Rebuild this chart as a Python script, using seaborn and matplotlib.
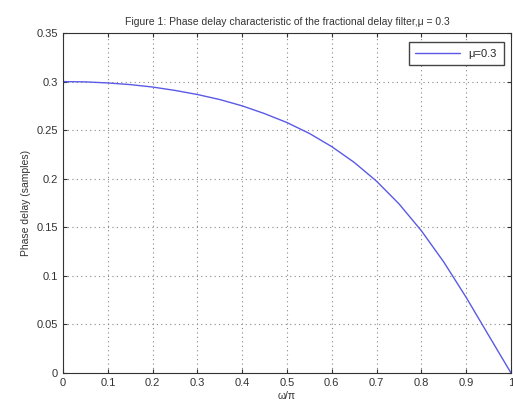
import numpy as np
import pandas as pd
import seaborn as sns
import matplotlib.pyplot as plt

# normalized frequency (w/pi) and phase delay
freq = [0.0, 0.05, 0.1, 0.15, 0.2, 0.25, 0.3, 0.35, 0.4, 0.45, 0.5,
        0.55, 0.6, 0.65, 0.7, 0.75, 0.8, 0.85, 0.9, 0.95, 1.0]
delay = [0.300, 0.2997, 0.2986, 0.2969, 0.2944, 0.2909, 0.2867, 0.2815, 0.2750, 0.2670, 0.2578,
         0.2466, 0.2330, 0.2168, 0.1974, 0.1741, 0.1464, 0.1142, 0.0778, 0.0388, 0.0]
series = ["\u03bc=0.3"] * len(freq)

df = pd.DataFrame({"freq": freq, "delay": delay, "series": series})

sns.set_style("ticks")
plt.rcParams['font.family'] = ['Liberation Sans', 'DejaVu Sans']
plt.rcParams['font.size'] = 7.5

fig = plt.figure(figsize=(5.13, 4.08), dpi=100)
ax = fig.add_axes([0.123, 0.086, 0.873, 0.833])

sns.lineplot(data=df, x="freq", y="delay", hue="series", palette=["#5a5ae6"],
             linewidth=1.0, ax=ax)

ax.set_xlim(0, 1)
ax.set_ylim(0, 0.35)
ax.set_xticks(np.arange(0, 1.01, 0.1))
ax.set_yticks(np.arange(0, 0.351, 0.05))
ax.set_xticklabels(["0", "0.1", "0.2", "0.3", "0.4", "0.5", "0.6", "0.7", "0.8", "0.9", "1"])
ax.set_yticklabels(["0", "0.05", "0.1", "0.15", "0.2", "0.25", "0.3", "0.35"])
ax.tick_params(direction="in", length=3, colors="#333333", labelcolor="#333333",
               labelsize=8, top=True, right=True)
ax.grid(True, linestyle=(0, (1, 3)), color="#888888", linewidth=0.8)
for s in ax.spines.values():
    s.set_color("#333333")
    s.set_linewidth(0.8)

ax.set_xlabel("\u03c9/\u03c0", color="#333333", labelpad=2)
ax.set_ylabel("Phase delay (samples)", color="#333333")
ax.set_title("Figure 1: Phase delay characteristic of the fractional delay filter,\u03bc = 0.3",
             color="#333333", fontsize=7.5, pad=6)

leg = ax.legend(loc="upper right", fancybox=False, framealpha=1, edgecolor="#444444",
                handlelength=4, borderpad=0.6, fontsize=8,
                bbox_to_anchor=(0.996, 0.99))
leg.set_title(None)

fig.savefig("out.png", dpi=100, facecolor="white")
